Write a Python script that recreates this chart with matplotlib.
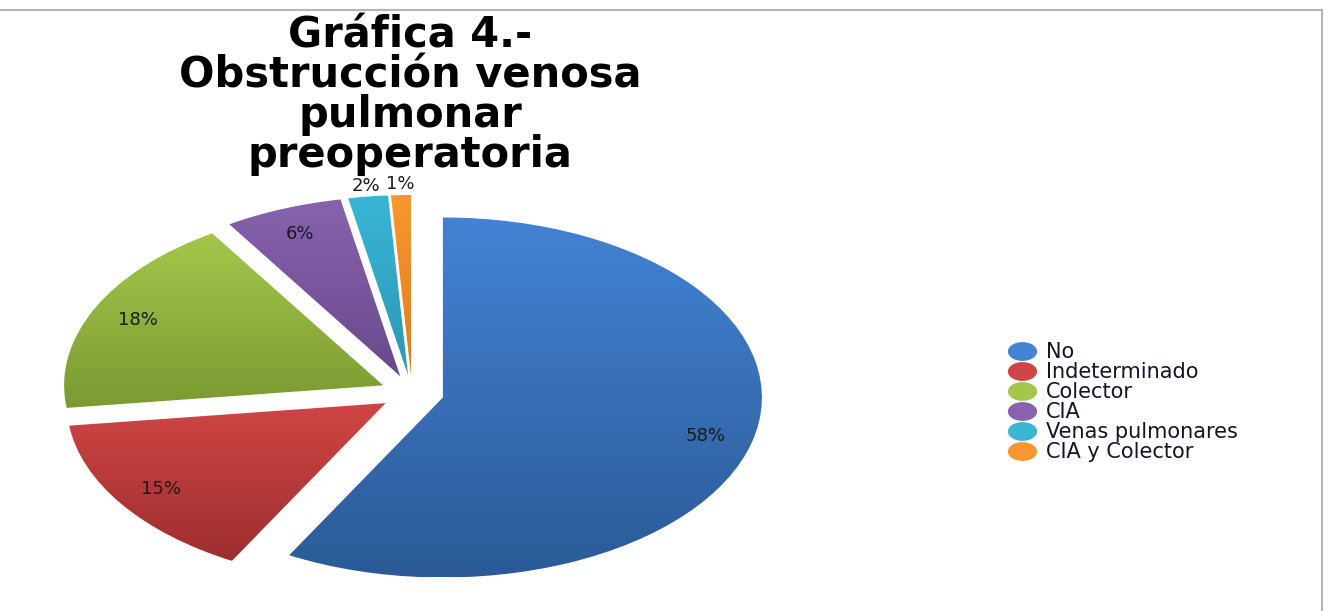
import numpy as np
import matplotlib
matplotlib.use("Agg")
import matplotlib.pyplot as plt
from matplotlib.lines import Line2D
from matplotlib.path import Path

# datos de la gráfica
categorias = ["No", "Indeterminado", "Colector", "CIA", "Venas pulmonares", "CIA y Colector"]
porcentajes = [58, 15, 18, 6, 2, 1]
color_arriba = ["#4383d4", "#d04545", "#a3c74b", "#8862ae", "#3bb5d5", "#f8972f"]
color_abajo = ["#2b5a97", "#9e2e2e", "#7b9a32", "#69498b", "#2a97b5", "#e07c1f"]
titulo = "Gráfica 4.-\nObstrucción venosa\npulmonar\npreoperatoria"

W, H = 1332, 611
fig = plt.figure(figsize=(W / 100, H / 100), dpi=100)
fig.patch.set_facecolor("white")

# ejes del pastel (escala horizontal estirada como en la original)
cx, cy = 412, 611 - 393
rx, ry = 319, 180
xl, yl = 1.3, 1.2
ax = fig.add_axes([(cx - xl * rx) / W, (cy - yl * ry) / H, 2 * xl * rx / W, 2 * yl * ry / H])

wedges, texts, autotexts = ax.pie(
    porcentajes,
    explode=[0.1] * len(porcentajes),
    colors=color_arriba,
    startangle=90,
    counterclock=False,
    autopct="%1.0f%%",
    pctdistance=0.85,
    wedgeprops=dict(edgecolor="white", linewidth=1),
    textprops=dict(fontsize=13, color="#1a1a1a"),
)

# degradado vertical en cada rebanada
for w, c0, c1 in zip(wedges, color_arriba, color_abajo):
    bb = w.get_path().get_extents()
    a = np.array(matplotlib.colors.to_rgb(c0))
    b = np.array(matplotlib.colors.to_rgb(c1))
    t = np.linspace(0, 1, 256)[:, None, None]
    img = a * (1 - t) + b * t
    im = ax.imshow(img, extent=[bb.x0, bb.x1, bb.y0, bb.y1], origin="upper",
                   aspect="auto", zorder=w.get_zorder() + 0.1, interpolation="bilinear")
    im.set_clip_path(w)

# etiquetas de las rebanadas chicas van afuera
for w, at, p in zip(wedges, autotexts, porcentajes):
    at.set_zorder(5)
    if p < 3:
        ang = np.deg2rad((w.theta1 + w.theta2) / 2)
        at.set_position((1.16 * np.cos(ang), 1.16 * np.sin(ang)))

ax.set_aspect("auto")
ax.set_xlim(-xl, xl)
ax.set_ylim(-yl, yl)
ax.axis("off")

fig.text(410 / W, 1 - 15 / H, titulo, ha="center", va="top", fontsize=30,
         fontweight="bold", family="DejaVu Sans", linespacing=0.93, color="black")

# leyenda con marcadores elípticos
th = np.linspace(0, 2 * np.pi, 60)
elipse = Path(np.column_stack([1.6 * np.cos(th), np.sin(th)]))
handles = [Line2D([], [], linestyle="none", marker=elipse, markersize=20,
                  markerfacecolor=c, markeredgecolor=c) for c in color_arriba]
fig.legend(handles, categorias, loc="center left", bbox_to_anchor=(998 / W, 1 - 402 / H),
           frameon=False, fontsize=15, handlelength=1.3, handletextpad=0.5,
           labelspacing=0.0, borderpad=0, labelcolor="#141428")

# marco gris arriba y a la derecha
fig.add_artist(Line2D([0, 1322 / W], [1 - 10 / H, 1 - 10 / H], color="#b5b5b5", lw=1.5))
fig.add_artist(Line2D([1322 / W, 1322 / W], [0, 1 - 10 / H], color="#b5b5b5", lw=1.5))

fig.savefig("out.png", dpi=100)
